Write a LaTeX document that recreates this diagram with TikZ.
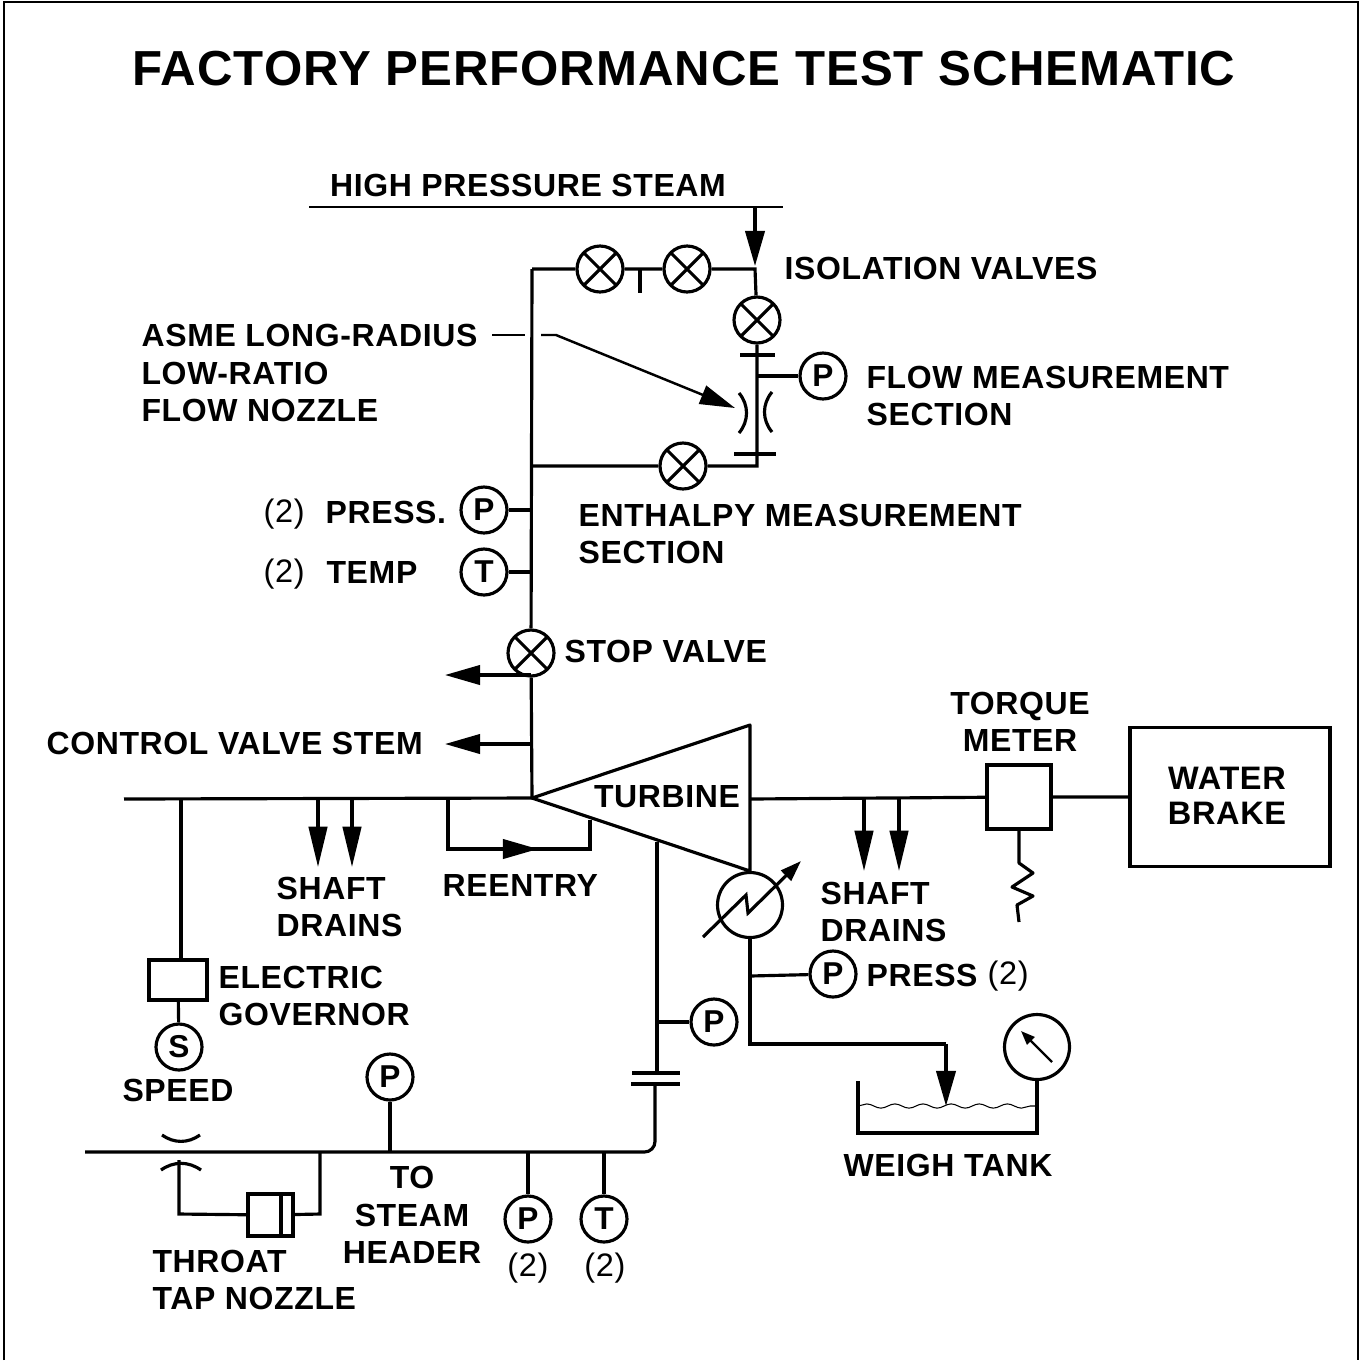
\documentclass[tikz,border=0pt]{standalone}
\usepackage{fontspec}
\setmainfont{Liberation Sans}[LetterSpace=2]
\usetikzlibrary{arrows.meta,decorations.pathmorphing}
\begin{document}
\begin{tikzpicture}[x=0.02cm,y=-0.02cm,line width=1.8pt,
        valve/.style = {draw, circle, minimum size=0.92cm, inner sep=0pt, path picture={
                \draw (path picture bounding box.north west) -- (path picture bounding box.south east);
                \draw (path picture bounding box.north east) -- (path picture bounding box.south west);}},
        gauge/.style = {draw, circle, minimum size=0.92cm, inner sep=0pt, font=\fontsize{18}{20}\selectfont\bfseries},
        lab/.style = {inner sep=0pt, align=left, anchor=west, font=\fontsize{18.2}{21.4}\selectfont\bfseries},
        labc/.style = {lab, anchor=center, align=center},
        num/.style = {inner sep=0pt, font=\fontsize{18.5}{21}\selectfont},
        flow/.style = {-{Stealth[inset=0pt,length=20pt,width=11pt]}},
        drain/.style = {-{Stealth[inset=0pt,length=23pt,width=10.5pt]}}]
        \useasboundingbox (0,0) rectangle (1361,1360);
        \coordinate (fr1) at (4,1360);
        \coordinate (fr2) at (4,2);
        \coordinate (fr3) at (1358,2);
        \coordinate (fr4) at (1358,1360);
        \draw[line width=1.4pt] (fr1) -- (fr2) -- (fr3) -- (fr4);
        \node[inner sep=0pt, font=\fontsize{28}{34}\selectfont\bfseries] (title) at (684,69) {FACTORY PERFORMANCE TEST SCHEMATIC};
        \node[labc] (steam) at (528,185) {HIGH PRESSURE STEAM};
        \coordinate (s1) at (309,207);
        \coordinate (s2) at (783,207);
        \coordinate (s3) at (755,207);
        \coordinate (s4) at (755,266);
        \coordinate (j1) at (755,269);
        \coordinate (j2) at (532,269);
        \coordinate (j3) at (532,466);
        \coordinate (j4) at (757,466);
        \coordinate (j5) at (532,510);
        \coordinate (j6) at (532,572);
        \coordinate (j7) at (757,376);
        \coordinate (t1) at (640,269);
        \coordinate (t2) at (640,293);
        \draw[line width=1.3pt] (s1) -- (s2);
        \draw[flow] (s3) -- (s4);
        \node[valve] (v1) at (600,269) {};
        \node[valve] (v2) at (687,269) {};
        \node[valve] (v3) at (757,320) {};
        \node[valve] (v4) at (683,466) {};
        \node[valve] (stop) at (531,653) {};
        \draw (j2) -- (v1) -- (v2) -- (j1) -- (v3) -- (j4) -- (v4) -- (j3);
        \draw (t1) -- (t2);
        \draw (j2) -- (stop);
        \coordinate (f1) at (740,355);
        \coordinate (f2) at (775,355);
        \coordinate (f3) at (734,454);
        \coordinate (f4) at (776,454);
        \draw (f1) -- (f2);
        \draw (f3) -- (f4);
        \node[gauge] (p1) at (823,376) {P};
        \draw (j7) -- (p1);
        \coordinate (n1) at (739,393);
        \coordinate (n2) at (739,433);
        \coordinate (n3) at (772,392);
        \coordinate (n4) at (772,432);
        \draw (n1) to[bend left=40] (n2);
        \draw (n3) to[bend right=40] (n4);
        \node[lab] (isol) at (783,268) {ISOLATION VALVES};
        \node[lab] (flowsec) at (865,396) {FLOW MEASUREMENT\\SECTION};
        \node[lab] (enth) at (577,534) {ENTHALPY MEASUREMENT\\SECTION};
        \node[lab] (asme) at (140,373) {ASME LONG-RADIUS\\LOW-RATIO\\FLOW NOZZLE};
        \coordinate (a1) at (492,335);
        \coordinate (a2) at (525,335);
        \coordinate (a3) at (541,335);
        \coordinate (a4) at (556,335);
        \coordinate (a5) at (735,408);
        \draw[line width=1.4pt] (a1) -- (a2);
        \draw[line width=1.4pt, flow] (a3) -- (a4) -- (a5);
        \node[gauge] (p2) at (484,510) {P};
        \node[gauge] (t3) at (484,572) {T};
        \draw (j5) -- (p2);
        \draw (j6) -- (t3);
        \node[num, anchor=west] (n21) at (262,514) {(2)};
        \node[lab] (press) at (324,512) {PRESS.};
        \node[num, anchor=west] (n22) at (262,574) {(2)};
        \node[lab] (temp) at (325,572) {TEMP};
        \node[lab] (stoplab) at (563,651) {STOP VALVE};
        \coordinate (tip) at (532,798);
        \coordinate (tt) at (750,725);
        \coordinate (tb) at (750,871);
        \draw (stop) -- (tip);
        \coordinate (e1) at (531,675);
        \coordinate (e2) at (445,675);
        \coordinate (e3) at (532,744);
        \coordinate (e4) at (445,744);
        \draw[flow] (e1) -- (e2);
        \draw[flow] (e3) -- (e4);
        \node[lab] (stem) at (45,743) {CONTROL VALVE STEM};
        \draw[line join=round] (tip) -- (tt) -- (tb) -- cycle;
        \node[labc] (turb) at (667,797) {TURBINE};
        \node[draw, minimum width=1.28cm, minimum height=1.28cm, inner sep=0pt] (torque) at (1019,797) {};
        \node[labc] (torquelab) at (1020,722) {TORQUE\\METER};
        \node[draw, minimum width=4cm, minimum height=2.78cm] (brake) at (1230,797) {};
        \node[labc, font=\fontsize{18.5}{20}\selectfont\bfseries] (brakelab) at (1227,796) {WATER\\BRAKE};
        \coordinate (l1) at (124,799);
        \coordinate (r1) at (750,799);
        \draw (l1) -- (tip);
        \draw (r1) -- (torque) -- (brake);
        \coordinate (d1) at (318,799);
        \coordinate (d2) at (318,867);
        \coordinate (d3) at (352,799);
        \coordinate (d4) at (352,867);
        \coordinate (d5) at (864,799);
        \coordinate (d6) at (864,871);
        \coordinate (d7) at (899,799);
        \coordinate (d8) at (899,871);
        \draw[drain] (d1) -- (d2);
        \draw[drain] (d3) -- (d4);
        \draw[drain] (d5) -- (d6);
        \draw[drain] (d7) -- (d8);
        \node[lab] (drainl) at (275,907) {SHAFT\\DRAINS};
        \node[lab] (drainr) at (819,912) {SHAFT\\DRAINS};
        \coordinate (q1) at (448,799);
        \coordinate (q2) at (448,849);
        \coordinate (q3) at (590,849);
        \coordinate (q4) at (590,820);
        \coordinate (q5) at (538,849);
        \draw (q1) -- (q2) -- (q3) -- (q4);
        \draw[flow] (q2) -- (q5);
        \node[lab] (reentry) at (441,885) {REENTRY};
        \coordinate (w1) at (1019,829);
        \coordinate (w2) at (1019,863);
        \coordinate (w3) at (1033,873);
        \coordinate (w4) at (1012,887);
        \coordinate (w5) at (1033,896);
        \coordinate (w6) at (1017,905);
        \coordinate (w7) at (1019,922);
        \draw[line join=round] (w1) -- (w2) -- (w3) -- (w4) -- (w5) -- (w6) -- (w7);
        \coordinate (g1) at (181,799);
        \node[draw, minimum width=1.16cm, minimum height=0.8cm, inner sep=0pt] (gov) at (178,980) {};
        \node[gauge] (spd) at (179,1047) {S};
        \draw (g1) -- (g1 |- gov.north);
        \draw (gov) -- (spd);
        \node[lab] (govlab) at (217,996) {ELECTRIC\\GOVERNOR};
        \node[labc] (spdlab) at (178,1090) {SPEED};
        \node[draw, circle, minimum size=1.3cm, inner sep=0pt] (cond) at (750,905) {};
        \coordinate (c2) at (750,976);
        \coordinate (c3) at (750,1044);
        \coordinate (c4) at (946,1044);
        \coordinate (c5) at (946,1106);
        \coordinate (b1) at (703,937);
        \coordinate (b2) at (746,895);
        \coordinate (b3) at (748,913);
        \coordinate (b4) at (801,861);
        \draw[-{Stealth[inset=0pt,length=12pt,width=8pt]}] (b1) -- (b2) -- (b3) -- (b4);
        \draw (cond) -- (c3) -- (c4);
        \draw[flow] (c4) -- (c5);
        \node[gauge] (p3) at (833,974) {P};
        \draw (c2) -- (p3);
        \node[lab] (presslab) at (865,975) {PRESS};
        \node[num, anchor=west] (n23) at (986,976) {(2)};
        \node[draw, circle, minimum size=1.3cm, inner sep=0pt] (meter) at (1037,1047) {};
        \coordinate (m1) at (1052,1062);
        \coordinate (m2) at (1021,1031);
        \draw[line width=1.4pt, -{Stealth[inset=0pt,length=8pt,width=6pt]}] (m1) -- (m2);
        \coordinate (k1) at (858,1081);
        \coordinate (k2) at (858,1133);
        \coordinate (k3) at (1037,1133);
        \draw (k1) -- (k2) -- (k3) -- (meter);
        \coordinate (k4) at (858,1106);
        \coordinate (k5) at (1037,1106);
        \draw[line width=0.6pt, decorate, decoration={snake,amplitude=1.2pt,segment length=16pt}] (k4) -- (k5);
        \node[labc] (tank) at (948,1165) {WEIGH TANK};
        \coordinate (h1) at (657,842);
        \coordinate (h2) at (657,1073);
        \coordinate (h3) at (655,1084);
        \coordinate (h4) at (655,1152);
        \coordinate (h5) at (85,1152);
        \coordinate (h6) at (632,1073);
        \coordinate (h7) at (680,1073);
        \coordinate (h8) at (631,1084);
        \coordinate (h9) at (680,1084);
        \coordinate (h10) at (657,1022);
        \draw (h1) -- (h2);
        \draw[rounded corners=6pt] (h3) -- (h4) -- (h5);
        \draw (h6) -- (h7);
        \draw (h8) -- (h9);
        \node[gauge] (p4) at (714,1022) {P};
        \draw (h10) -- (p4);
        \node[gauge] (p5) at (390,1077) {P};
        \node[gauge] (p6) at (528,1219) {P};
        \node[gauge] (t4) at (604,1219) {T};
        \draw (p5) -- (p5 |- h5);
        \draw (p6) -- (p6 |- h5);
        \draw (t4) -- (t4 |- h5);
        \node[num] (n24) at (528,1268) {(2)};
        \node[num] (n25) at (605,1268) {(2)};
        \node[labc] (header) at (412,1215) {TO\\STEAM\\HEADER};
        \coordinate (z1) at (162,1135);
        \coordinate (z2) at (200,1135);
        \coordinate (z3) at (161,1170);
        \coordinate (z4) at (201,1170);
        \coordinate (z5) at (179,1160);
        \coordinate (z6) at (179,1214);
        \coordinate (z7) at (320,1214);
        \coordinate (z8) at (320,1152);
        \coordinate (z9) at (281,1194);
        \coordinate (z10) at (281,1236);
        \draw (z1) to[bend right=35] (z2);
        \draw (z3) to[bend left=35] (z4);
        \node[draw, minimum width=0.9cm, minimum height=0.84cm, inner sep=0pt] (tap) at (270.5,1215) {};
        \draw (z5) -- (z6) -- (tap) -- (z7) -- (z8);
        \draw (z9) -- (z10);
        \node[lab] (throat) at (151,1280) {THROAT\\TAP NOZZLE};
\end{tikzpicture}
\end{document}
